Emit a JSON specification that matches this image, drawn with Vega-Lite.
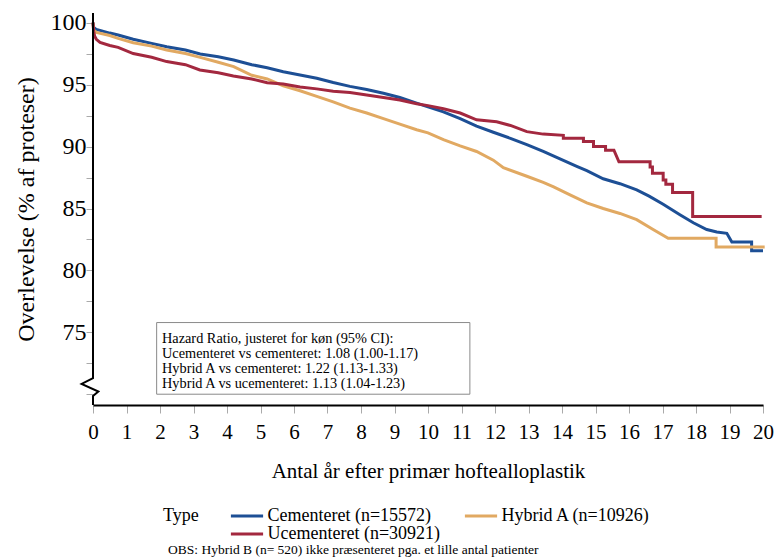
{
  "$schema": "https://vega.github.io/schema/vega-lite/v6.json",
  "width": 670,
  "height": 392,
  "autosize": {"type": "none"},
  "padding": {"left": 93, "top": 13, "right": 13, "bottom": 152},
  "background": "white",
  "title": {
    "text": "OBS: Hybrid B (n= 520) ikke præsenteret pga. et lille antal patienter",
    "orient": "bottom",
    "anchor": "start",
    "dx": 154,
    "offset": 0,
    "fontSize": 13.5,
    "fontWeight": "normal",
    "font": "Liberation Serif",
    "color": "#000"
  },
  "datasets": {
    "curves": [
      {"type": "Cementeret (n=15572)", "i": 1, "t": 0, "s": 100},
      {"type": "Cementeret (n=15572)", "i": 2, "t": 0.02, "s": 99.6},
      {"type": "Cementeret (n=15572)", "i": 3, "t": 0.1, "s": 99.45},
      {"type": "Cementeret (n=15572)", "i": 4, "t": 0.5, "s": 99.15},
      {"type": "Cementeret (n=15572)", "i": 5, "t": 0.75, "s": 99.0},
      {"type": "Cementeret (n=15572)", "i": 6, "t": 1.2, "s": 98.65},
      {"type": "Cementeret (n=15572)", "i": 7, "t": 1.75, "s": 98.32},
      {"type": "Cementeret (n=15572)", "i": 8, "t": 2.2, "s": 98.05},
      {"type": "Cementeret (n=15572)", "i": 9, "t": 2.76, "s": 97.78},
      {"type": "Cementeret (n=15572)", "i": 10, "t": 3.2, "s": 97.46},
      {"type": "Cementeret (n=15572)", "i": 11, "t": 3.74, "s": 97.24},
      {"type": "Cementeret (n=15572)", "i": 12, "t": 4.2, "s": 96.98},
      {"type": "Cementeret (n=15572)", "i": 13, "t": 4.74, "s": 96.6},
      {"type": "Cementeret (n=15572)", "i": 14, "t": 5.2, "s": 96.35},
      {"type": "Cementeret (n=15572)", "i": 15, "t": 5.68, "s": 96.03},
      {"type": "Cementeret (n=15572)", "i": 16, "t": 6.18, "s": 95.77},
      {"type": "Cementeret (n=15572)", "i": 17, "t": 6.68, "s": 95.5},
      {"type": "Cementeret (n=15572)", "i": 18, "t": 7.17, "s": 95.16},
      {"type": "Cementeret (n=15572)", "i": 19, "t": 7.67, "s": 94.85},
      {"type": "Cementeret (n=15572)", "i": 20, "t": 8.17, "s": 94.6},
      {"type": "Cementeret (n=15572)", "i": 21, "t": 8.67, "s": 94.3},
      {"type": "Cementeret (n=15572)", "i": 22, "t": 9.16, "s": 93.95},
      {"type": "Cementeret (n=15572)", "i": 23, "t": 9.66, "s": 93.5},
      {"type": "Cementeret (n=15572)", "i": 24, "t": 10.0, "s": 93.2},
      {"type": "Cementeret (n=15572)", "i": 25, "t": 10.46, "s": 92.8},
      {"type": "Cementeret (n=15572)", "i": 26, "t": 10.96, "s": 92.25},
      {"type": "Cementeret (n=15572)", "i": 27, "t": 11.45, "s": 91.65},
      {"type": "Cementeret (n=15572)", "i": 28, "t": 11.95, "s": 91.15},
      {"type": "Cementeret (n=15572)", "i": 29, "t": 12.46, "s": 90.66},
      {"type": "Cementeret (n=15572)", "i": 30, "t": 12.95, "s": 90.15},
      {"type": "Cementeret (n=15572)", "i": 31, "t": 13.44, "s": 89.6},
      {"type": "Cementeret (n=15572)", "i": 32, "t": 13.94, "s": 89.0},
      {"type": "Cementeret (n=15572)", "i": 33, "t": 14.44, "s": 88.4},
      {"type": "Cementeret (n=15572)", "i": 34, "t": 14.74, "s": 88.05},
      {"type": "Cementeret (n=15572)", "i": 35, "t": 15.23, "s": 87.4},
      {"type": "Cementeret (n=15572)", "i": 36, "t": 15.73, "s": 87.0},
      {"type": "Cementeret (n=15572)", "i": 37, "t": 16.23, "s": 86.5},
      {"type": "Cementeret (n=15572)", "i": 38, "t": 16.6, "s": 86.0},
      {"type": "Cementeret (n=15572)", "i": 39, "t": 17.02, "s": 85.35},
      {"type": "Cementeret (n=15572)", "i": 40, "t": 17.52, "s": 84.5},
      {"type": "Cementeret (n=15572)", "i": 41, "t": 17.92, "s": 83.85},
      {"type": "Cementeret (n=15572)", "i": 42, "t": 18.32, "s": 83.3},
      {"type": "Cementeret (n=15572)", "i": 43, "t": 18.62, "s": 83.1},
      {"type": "Cementeret (n=15572)", "i": 44, "t": 18.92, "s": 83.0},
      {"type": "Cementeret (n=15572)", "i": 45, "t": 19.07, "s": 82.3},
      {"type": "Cementeret (n=15572)", "i": 46, "t": 19.66, "s": 82.3},
      {"type": "Cementeret (n=15572)", "i": 47, "t": 19.66, "s": 81.6},
      {"type": "Cementeret (n=15572)", "i": 48, "t": 20.0, "s": 81.6},
      {"type": "Hybrid A (n=10926)", "i": 1, "t": 0, "s": 100},
      {"type": "Hybrid A (n=10926)", "i": 2, "t": 0.02, "s": 99.4},
      {"type": "Hybrid A (n=10926)", "i": 3, "t": 0.1, "s": 99.2},
      {"type": "Hybrid A (n=10926)", "i": 4, "t": 0.5, "s": 98.95},
      {"type": "Hybrid A (n=10926)", "i": 5, "t": 0.75, "s": 98.72},
      {"type": "Hybrid A (n=10926)", "i": 6, "t": 1.2, "s": 98.37},
      {"type": "Hybrid A (n=10926)", "i": 7, "t": 1.75, "s": 98.1},
      {"type": "Hybrid A (n=10926)", "i": 8, "t": 2.2, "s": 97.78},
      {"type": "Hybrid A (n=10926)", "i": 9, "t": 2.76, "s": 97.5},
      {"type": "Hybrid A (n=10926)", "i": 10, "t": 3.2, "s": 97.19},
      {"type": "Hybrid A (n=10926)", "i": 11, "t": 3.74, "s": 96.8},
      {"type": "Hybrid A (n=10926)", "i": 12, "t": 4.2, "s": 96.44},
      {"type": "Hybrid A (n=10926)", "i": 13, "t": 4.74, "s": 95.75},
      {"type": "Hybrid A (n=10926)", "i": 14, "t": 5.2, "s": 95.45},
      {"type": "Hybrid A (n=10926)", "i": 15, "t": 5.68, "s": 94.9},
      {"type": "Hybrid A (n=10926)", "i": 16, "t": 6.18, "s": 94.5},
      {"type": "Hybrid A (n=10926)", "i": 17, "t": 6.68, "s": 94.05},
      {"type": "Hybrid A (n=10926)", "i": 18, "t": 7.17, "s": 93.6},
      {"type": "Hybrid A (n=10926)", "i": 19, "t": 7.67, "s": 93.1},
      {"type": "Hybrid A (n=10926)", "i": 20, "t": 8.17, "s": 92.7},
      {"type": "Hybrid A (n=10926)", "i": 21, "t": 8.67, "s": 92.25},
      {"type": "Hybrid A (n=10926)", "i": 22, "t": 9.16, "s": 91.8},
      {"type": "Hybrid A (n=10926)", "i": 23, "t": 9.66, "s": 91.35},
      {"type": "Hybrid A (n=10926)", "i": 24, "t": 10.0, "s": 91.1},
      {"type": "Hybrid A (n=10926)", "i": 25, "t": 10.46, "s": 90.55},
      {"type": "Hybrid A (n=10926)", "i": 26, "t": 10.96, "s": 90.05},
      {"type": "Hybrid A (n=10926)", "i": 27, "t": 11.45, "s": 89.6},
      {"type": "Hybrid A (n=10926)", "i": 28, "t": 11.95, "s": 88.9},
      {"type": "Hybrid A (n=10926)", "i": 29, "t": 12.25, "s": 88.3},
      {"type": "Hybrid A (n=10926)", "i": 30, "t": 12.95, "s": 87.6},
      {"type": "Hybrid A (n=10926)", "i": 31, "t": 13.44, "s": 87.1},
      {"type": "Hybrid A (n=10926)", "i": 32, "t": 13.75, "s": 86.75},
      {"type": "Hybrid A (n=10926)", "i": 33, "t": 14.24, "s": 86.1},
      {"type": "Hybrid A (n=10926)", "i": 34, "t": 14.74, "s": 85.45},
      {"type": "Hybrid A (n=10926)", "i": 35, "t": 15.23, "s": 85.0},
      {"type": "Hybrid A (n=10926)", "i": 36, "t": 15.73, "s": 84.6},
      {"type": "Hybrid A (n=10926)", "i": 37, "t": 16.23, "s": 84.1},
      {"type": "Hybrid A (n=10926)", "i": 38, "t": 16.72, "s": 83.3},
      {"type": "Hybrid A (n=10926)", "i": 39, "t": 17.17, "s": 82.6},
      {"type": "Hybrid A (n=10926)", "i": 40, "t": 18.6, "s": 82.6},
      {"type": "Hybrid A (n=10926)", "i": 41, "t": 18.6, "s": 81.9},
      {"type": "Hybrid A (n=10926)", "i": 42, "t": 20.05, "s": 81.9},
      {"type": "Ucementeret (n=30921)", "i": 1, "t": 0, "s": 100},
      {"type": "Ucementeret (n=30921)", "i": 2, "t": 0.02, "s": 99.3},
      {"type": "Ucementeret (n=30921)", "i": 3, "t": 0.05, "s": 98.9},
      {"type": "Ucementeret (n=30921)", "i": 4, "t": 0.1, "s": 98.65},
      {"type": "Ucementeret (n=30921)", "i": 5, "t": 0.21, "s": 98.4},
      {"type": "Ucementeret (n=30921)", "i": 6, "t": 0.5, "s": 98.15},
      {"type": "Ucementeret (n=30921)", "i": 7, "t": 0.75, "s": 98.0},
      {"type": "Ucementeret (n=30921)", "i": 8, "t": 1.2, "s": 97.5},
      {"type": "Ucementeret (n=30921)", "i": 9, "t": 1.75, "s": 97.2},
      {"type": "Ucementeret (n=30921)", "i": 10, "t": 2.2, "s": 96.85},
      {"type": "Ucementeret (n=30921)", "i": 11, "t": 2.76, "s": 96.6},
      {"type": "Ucementeret (n=30921)", "i": 12, "t": 3.19, "s": 96.17},
      {"type": "Ucementeret (n=30921)", "i": 13, "t": 3.74, "s": 95.95},
      {"type": "Ucementeret (n=30921)", "i": 14, "t": 4.19, "s": 95.69},
      {"type": "Ucementeret (n=30921)", "i": 15, "t": 4.74, "s": 95.45},
      {"type": "Ucementeret (n=30921)", "i": 16, "t": 5.2, "s": 95.15},
      {"type": "Ucementeret (n=30921)", "i": 17, "t": 5.68, "s": 95.05},
      {"type": "Ucementeret (n=30921)", "i": 18, "t": 6.18, "s": 94.8},
      {"type": "Ucementeret (n=30921)", "i": 19, "t": 6.68, "s": 94.65},
      {"type": "Ucementeret (n=30921)", "i": 20, "t": 7.17, "s": 94.45},
      {"type": "Ucementeret (n=30921)", "i": 21, "t": 7.67, "s": 94.35},
      {"type": "Ucementeret (n=30921)", "i": 22, "t": 8.17, "s": 94.15},
      {"type": "Ucementeret (n=30921)", "i": 23, "t": 8.67, "s": 93.95},
      {"type": "Ucementeret (n=30921)", "i": 24, "t": 9.16, "s": 93.75},
      {"type": "Ucementeret (n=30921)", "i": 25, "t": 9.66, "s": 93.45},
      {"type": "Ucementeret (n=30921)", "i": 26, "t": 10.0, "s": 93.3},
      {"type": "Ucementeret (n=30921)", "i": 27, "t": 10.46, "s": 93.05},
      {"type": "Ucementeret (n=30921)", "i": 28, "t": 10.96, "s": 92.7},
      {"type": "Ucementeret (n=30921)", "i": 29, "t": 11.45, "s": 92.15},
      {"type": "Ucementeret (n=30921)", "i": 30, "t": 12.05, "s": 92.0},
      {"type": "Ucementeret (n=30921)", "i": 31, "t": 12.46, "s": 91.7},
      {"type": "Ucementeret (n=30921)", "i": 32, "t": 12.95, "s": 91.2},
      {"type": "Ucementeret (n=30921)", "i": 33, "t": 13.44, "s": 91.0},
      {"type": "Ucementeret (n=30921)", "i": 34, "t": 14.04, "s": 90.9},
      {"type": "Ucementeret (n=30921)", "i": 35, "t": 14.04, "s": 90.66},
      {"type": "Ucementeret (n=30921)", "i": 36, "t": 14.64, "s": 90.66},
      {"type": "Ucementeret (n=30921)", "i": 37, "t": 14.64, "s": 90.4},
      {"type": "Ucementeret (n=30921)", "i": 38, "t": 14.94, "s": 90.4},
      {"type": "Ucementeret (n=30921)", "i": 39, "t": 14.94, "s": 90.0},
      {"type": "Ucementeret (n=30921)", "i": 40, "t": 15.3, "s": 90.0},
      {"type": "Ucementeret (n=30921)", "i": 41, "t": 15.3, "s": 89.7},
      {"type": "Ucementeret (n=30921)", "i": 42, "t": 15.55, "s": 89.7},
      {"type": "Ucementeret (n=30921)", "i": 43, "t": 15.7, "s": 88.77},
      {"type": "Ucementeret (n=30921)", "i": 44, "t": 16.63, "s": 88.77},
      {"type": "Ucementeret (n=30921)", "i": 45, "t": 16.63, "s": 88.35},
      {"type": "Ucementeret (n=30921)", "i": 46, "t": 16.7, "s": 88.35},
      {"type": "Ucementeret (n=30921)", "i": 47, "t": 16.7, "s": 87.85},
      {"type": "Ucementeret (n=30921)", "i": 48, "t": 17.02, "s": 87.85},
      {"type": "Ucementeret (n=30921)", "i": 49, "t": 17.02, "s": 87.3},
      {"type": "Ucementeret (n=30921)", "i": 50, "t": 17.1, "s": 87.3},
      {"type": "Ucementeret (n=30921)", "i": 51, "t": 17.1, "s": 86.95},
      {"type": "Ucementeret (n=30921)", "i": 52, "t": 17.3, "s": 86.95},
      {"type": "Ucementeret (n=30921)", "i": 53, "t": 17.3, "s": 86.3},
      {"type": "Ucementeret (n=30921)", "i": 54, "t": 17.9, "s": 86.3},
      {"type": "Ucementeret (n=30921)", "i": 55, "t": 17.9, "s": 84.35},
      {"type": "Ucementeret (n=30921)", "i": 56, "t": 19.96, "s": 84.35}
    ],
    "box": [{"x1": 1.9, "x2": 11.25, "y1": 75.8, "y2": 70.02}],
    "notes": [
      {"x": 2.06, "y": 74.48, "txt": "Hazard Ratio, justeret for køn (95% CI):"},
      {"x": 2.06, "y": 73.27, "txt": "Ucementeret vs cementeret: 1.08 (1.00-1.17)"},
      {"x": 2.06, "y": 72.06, "txt": "Hybrid A vs cementeret: 1.22 (1.13-1.33)"},
      {"x": 2.06, "y": 70.85, "txt": "Hybrid A vs ucementeret: 1.13 (1.04-1.23)"}
    ],
    "yaxis": [
      {"k": 1, "x": 0, "y": 100.77},
      {"k": 2, "x": 0, "y": 71.31},
      {"k": 3, "x": -0.34, "y": 70.85},
      {"k": 4, "x": 0.16, "y": 70.23},
      {"k": 5, "x": 0, "y": 69.87},
      {"k": 6, "x": 0, "y": 69.15}
    ]
  },
  "layer": [
    {
      "data": {"name": "box"},
      "mark": {"type": "rect", "fill": "white", "stroke": "#8a8a8a", "strokeWidth": 1},
      "encoding": {
        "x": {
          "field": "x1", "type": "quantitative",
          "scale": {"domain": [0, 20], "nice": false},
          "axis": {
            "title": "Antal år efter primær hoftealloplastik",
            "values": [0,1,2,3,4,5,6,7,8,9,10,11,12,13,14,15,16,17,18,19,20],
            "tickCount": 40,
            "format": "d",
            "labelOverlap": false,
            "labelSeparation": 0,
            "labelFlush": false,
            "domainColor": "#000", "domainWidth": 2,
            "tickColor": "#aaaaaa", "tickSize": 8, "tickWidth": 1,
            "labelFontSize": 21, "labelPadding": 8, "labelColor": "#000",
            "titleFontSize": 21, "titlePadding": 18, "titleColor": "#000", "titleFontWeight": "normal",
            "grid": false
          }
        },
        "x2": {"field": "x2"},
        "y": {
          "field": "y1", "type": "quantitative",
          "scale": {"domain": [69.15, 100.77], "nice": false, "zero": false},
          "axis": {
            "title": "Overlevelse (% af proteser)",
            "values": [70, 72.5, 75, 77.5, 80, 82.5, 85, 87.5, 90, 92.5, 95, 97.5, 100],
            "tickCount": 40,
            "labelExpr": "datum.value % 5 == 0 && datum.value >= 75 ? format(datum.value, 'd') : ''",
            "labelOverlap": false,
            "labelFlush": false,
            "domain": false,
            "tickColor": "#aaaaaa", "tickSize": 7, "tickWidth": 1,
            "labelFontSize": 24, "labelPadding": 0, "labelColor": "#000",
            "titleFontSize": 24, "titlePadding": 12, "titleColor": "#000", "titleFontWeight": "normal",
            "grid": false
          }
        },
        "y2": {"field": "y2"}
      }
    },
    {
      "data": {"name": "notes"},
      "mark": {"type": "text", "align": "left", "baseline": "middle", "font": "Liberation Serif", "fontSize": 14.3, "color": "#000"},
      "encoding": {
        "x": {"field": "x", "type": "quantitative"},
        "y": {"field": "y", "type": "quantitative"},
        "text": {"field": "txt"}
      }
    },
    {
      "data": {"name": "curves"},
      "mark": {"type": "line", "strokeWidth": 3, "interpolate": "linear", "strokeJoin": "miter"},
      "encoding": {
        "x": {"field": "t", "type": "quantitative"},
        "y": {"field": "s", "type": "quantitative"},
        "color": {
          "field": "type", "type": "nominal",
          "scale": {
            "domain": ["Cementeret (n=15572)", "Hybrid A (n=10926)", "Ucementeret (n=30921)"],
            "range": ["#1d4f95", "#e1a962", "#a3283f"]
          },
          "legend": {
            "title": "Type",
            "orient": "none",
            "legendX": 70,
            "legendY": 494,
            "direction": "horizontal",
            "columns": 2,
            "titleOrient": "left",
            "titleAnchor": "start",
            "titleFontSize": 18,
            "titleFontWeight": "normal",
            "titleColor": "#000",
            "titlePadding": 39,
            "labelFontSize": 18,
            "labelColor": "#000",
            "labelLimit": 400,
            "labelOffset": 11.5,
            "symbolType": "M-2.3,0H2.3",
            "symbolSize": 196,
            "symbolStrokeWidth": 3,
            "columnPadding": 17,
            "rowPadding": 0
          }
        },
        "order": {"field": "i", "type": "quantitative"}
      }
    },
    {
      "data": {"name": "yaxis"},
      "mark": {"type": "line", "color": "#000", "strokeWidth": 2},
      "encoding": {
        "x": {"field": "x", "type": "quantitative"},
        "y": {"field": "y", "type": "quantitative"},
        "order": {"field": "k", "type": "quantitative"}
      }
    }
  ],
  "config": {
    "font": "Liberation Serif",
    "view": {"stroke": null},
    "axis": {"labelFont": "Liberation Serif", "titleFont": "Liberation Serif", "labelOverlap": false},
    "legend": {"labelFont": "Liberation Serif", "titleFont": "Liberation Serif"}
  }
}
